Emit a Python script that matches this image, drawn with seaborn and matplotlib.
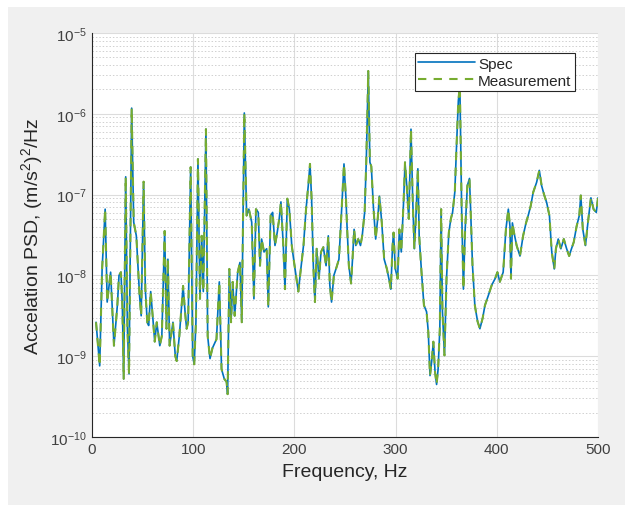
import numpy as np
import pandas as pd
import seaborn as sns
import matplotlib
matplotlib.use("Agg")
import matplotlib.pyplot as plt
from matplotlib.patches import Rectangle
from matplotlib.ticker import LogLocator, NullFormatter

# frequency (Hz) and log10 of PSD
freq = [4, 7.6, 10, 13, 15, 18.4, 21.7, 25, 26.7, 28.6, 30, 31.3, 33.3, 35, 36.6,
        39.2, 41.2, 43.8, 47, 48.6, 51, 52.7, 54.6, 56, 58, 62, 64, 67, 69, 71.8,
        73.6, 75, 76.7, 80, 82.3, 83.7, 86.3, 90, 92, 93.5, 95, 97.5, 99.5, 101,
        102.7, 104.7, 106.7, 108.4, 110, 112.6, 114.3, 116.6, 119, 123, 125.8, 128,
        130.7, 133, 134, 135.7, 137.4, 139, 141, 144, 146.2, 148, 150.5, 152.8, 155,
        157.8, 160, 162, 164.3, 166, 167.6, 170, 172.6, 174.2, 176.5, 178.5, 180.8,
        183, 185, 186.7, 189, 190.7, 193, 195, 197.4, 199.7, 201.6, 203.9, 206, 209,
        211.5, 213.7, 215.4, 217, 218.7, 220.3, 222, 224.3, 226.3, 228.6, 231.3,
        233.5, 235, 236.7, 239, 241.6, 244, 246.7, 249, 251, 252, 253.8, 256, 257.6,
        259, 260.7, 263, 265.3, 267, 269.4, 271, 273, 274.6, 276, 278, 280.3, 282.3,
        284, 286.3, 288.7, 291.4, 294, 295.3, 297, 298, 299.7, 302, 303.7, 305.6,
        308, 309.3, 311, 313, 315.2, 317, 318.5, 320, 322, 323.3, 325.6, 328, 330.6,
        332.3, 334, 335.6, 337.3, 339, 340.5, 342, 343.7, 345, 346.3, 348.3, 350.3,
        352.6, 354.6, 356.3, 358.5, 360.2, 362, 363.5, 365.3, 367, 368.6, 370.9, 373,
        374, 376, 378.3, 381, 383.3, 386, 388.3, 391.6, 395, 398.3, 400.6, 403,
        406.3, 409, 411.4, 413, 414, 415.4, 417, 419.6, 422.9, 426, 428.9, 431,
        433.5, 436, 439.3, 442, 444.3, 446.7, 449.3, 452, 454.3, 456.8, 458.4, 460.7,
        463.3, 466.2, 469, 471.5, 473.8, 476, 478.9, 481.5, 483, 485, 487.6, 490,
        493, 495.6, 498.3, 500]

spec_log = [-8.58, -9.12, -7.92, -7.18, -8.33, -7.96, -8.87, -8.38, -8.0, -7.96, -8.38,
            -9.28, -6.78, -8.66, -9.22, -5.93, -7.34, -7.51, -8.25, -8.5, -6.84, -8.17,
            -8.58, -8.62, -8.2, -8.82, -8.58, -8.87, -8.75, -7.45, -8.66, -7.8, -8.87,
            -8.58, -9.0, -9.06, -8.75, -8.13, -8.46, -8.66, -8.58, -6.66, -9.0, -9.1,
            -8.58, -6.56, -8.29, -7.51, -8.2, -6.19, -8.75, -9.03, -8.9, -8.79, -8.08,
            -9.16, -9.28, -9.32, -9.47, -7.92, -8.58, -8.08, -8.5, -7.96, -7.84, -8.58,
            -5.99, -7.26, -7.18, -7.34, -8.29, -7.18, -7.22, -7.88, -7.55, -7.71, -7.67,
            -8.39, -7.26, -7.22, -7.63, -7.47, -7.3, -7.09, -7.63, -8.17, -7.05, -7.18,
            -7.63, -7.84, -8.0, -8.2, -7.96, -7.63, -7.18, -6.89, -6.62, -7.05, -7.88,
            -8.33, -7.67, -8.04, -7.71, -7.65, -7.88, -7.51, -8.12, -8.33, -8.0, -7.9,
            -7.8, -7.18, -6.62, -7.06, -7.39, -7.88, -8.1, -7.76, -7.43, -7.63, -7.55,
            -7.63, -7.51, -7.22, -6.6, -5.47, -6.6, -6.65, -7.14, -7.55, -7.3, -7.02,
            -7.34, -7.8, -7.92, -8.08, -8.17, -7.63, -7.47, -7.92, -8.04, -7.43, -7.71,
            -7.06, -6.6, -6.89, -7.3, -6.19, -7.1, -7.67, -7.3, -6.68, -7.51, -7.96,
            -8.37, -8.45, -8.7, -9.24, -9.07, -8.82, -9.2, -9.35, -9.16, -8.66, -7.18,
            -8.45, -8.99, -8.04, -7.47, -7.3, -7.22, -6.97, -6.4, -5.84, -5.65, -7.2,
            -8.17, -7.47, -6.89, -6.8, -7.14, -7.88, -8.37, -8.57, -8.66, -8.53, -8.37,
            -8.25, -8.12, -8.04, -7.96, -8.08, -7.96, -7.43, -7.18, -7.39, -8.04, -7.35,
            -7.47, -7.63, -7.76, -7.51, -7.35, -7.26, -7.14, -6.97, -6.85, -6.7, -6.89,
            -7.0, -7.1, -7.26, -7.71, -7.92, -7.67, -7.55, -7.67, -7.55, -7.67, -7.76,
            -7.67, -7.59, -7.39, -7.26, -7.01, -7.43, -7.63, -7.35, -7.04, -7.18, -7.22,
            -7.04]

# measurement sits right on top of the spec
meas_log = list(spec_log)

df = pd.DataFrame({"Frequency": freq,
                   "Spec": np.power(10.0, spec_log),
                   "Measurement": np.power(10.0, meas_log)})

sns.set_style("white")
plt.rcParams["font.family"] = ["Liberation Sans", "DejaVu Sans"]
plt.rcParams["mathtext.fontset"] = "custom"
plt.rcParams["mathtext.rm"] = "Liberation Sans"
plt.rcParams["mathtext.it"] = "Liberation Sans:italic"

fig = plt.figure(figsize=(6.25, 5.06), dpi=100, facecolor="#f0f0f0")
# thin white strips along the top and left edge, as in the screenshot
fig.patches.append(Rectangle((0, 1 - 8 / 506), 1, 8 / 506, transform=fig.transFigure,
                             facecolor="white", edgecolor="none", zorder=-10))
fig.patches.append(Rectangle((0, 0), 8 / 625, 1, transform=fig.transFigure,
                             facecolor="white", edgecolor="none", zorder=-10))
ax = fig.add_axes([92 / 625, 68 / 506, 506 / 625, 404 / 506])
ax.set_facecolor("white")

sns.lineplot(data=df, x="Frequency", y="Spec", ax=ax, color="#0072BD",
             linewidth=1.2, label="Spec", estimator=None)
sns.lineplot(data=df, x="Frequency", y="Measurement", ax=ax, color="#77AC30",
             linewidth=1.5, linestyle=(0, (4, 3.5)), label="Measurement", estimator=None)

ax.set_yscale("log")
ax.set_xlim(0, 500)
ax.set_ylim(1e-10, 1e-5)
ax.set_xticks([0, 100, 200, 300, 400, 500])
ax.yaxis.set_major_locator(LogLocator(base=10, numticks=10))
ax.yaxis.set_minor_locator(LogLocator(base=10, subs=np.arange(2, 10), numticks=50))
ax.yaxis.set_minor_formatter(NullFormatter())

ax.grid(which="major", color="#dcdcdc", linewidth=0.8, linestyle="-")
ax.grid(which="minor", axis="y", color="#d0d0d0", linewidth=0.7, linestyle=(0, (1.5, 2)))
ax.set_axisbelow(True)

for side in ["top", "right"]:
    ax.spines[side].set_visible(False)
for side in ["left", "bottom"]:
    ax.spines[side].set_color("#262626")
    ax.spines[side].set_linewidth(0.8)

ax.tick_params(axis="both", which="both", direction="in", colors="#262626",
               labelcolor="#404040", labelsize=11)
ax.tick_params(which="major", length=4)
ax.tick_params(which="minor", length=2)

ax.set_xlabel("Frequency, Hz", fontsize=14, color="#262626", labelpad=5)
ax.set_ylabel("Accelation PSD, (m/s$^2$)$^2$/Hz", fontsize=14, color="#262626",
              labelpad=4)

leg = ax.legend(loc="upper right", bbox_to_anchor=(0.97, 0.97), fontsize=11,
                handlelength=3.7, handletextpad=0.2, borderpad=0.25,
                labelspacing=0.2, fancybox=False, framealpha=1)
leg.get_frame().set_edgecolor("#262626")
leg.get_frame().set_linewidth(0.8)

fig.savefig("out.png", dpi=100, facecolor=fig.get_facecolor())
